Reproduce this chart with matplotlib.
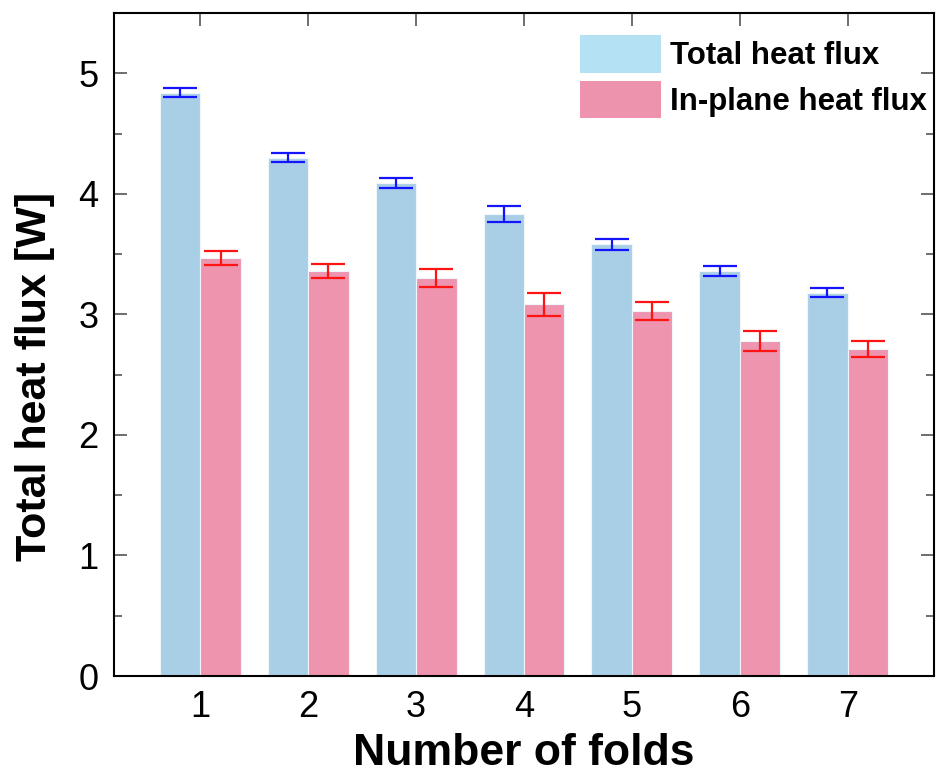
import matplotlib

matplotlib.use("Agg")
import matplotlib.pyplot as plt
import numpy as np
from matplotlib.patches import Patch
from matplotlib.ticker import MultipleLocator

FOLDS = [1, 2, 3, 4, 5, 6, 7]
TOTAL = [4.84, 4.30, 4.09, 3.83, 3.58, 3.36, 3.18]
TOTAL_ERR = [0.035, 0.035, 0.04, 0.065, 0.045, 0.045, 0.04]
INPLANE = [3.47, 3.36, 3.30, 3.085, 3.03, 2.78, 2.71]
INPLANE_ERR = [0.058, 0.055, 0.075, 0.095, 0.075, 0.08, 0.065]

LABELS = ["Total heat flux", "In-plane heat flux"]
BAR_COLORS = ["#a9cfe7", "#ee94ae"]
LEGEND_COLORS = ["#b4e2f4", "#ee93ae"]
ERR_COLORS = ["#1414ff", "#ff1414"]

plt.rcParams["font.family"] = ["Liberation Sans", "DejaVu Sans"]


def main():
    fig = plt.figure(figsize=(9.36, 7.82), dpi=100)
    ax = fig.add_axes([0.1218, 0.1355, 0.8761, 0.8479])

    x = np.array(FOLDS, dtype=float)
    w = 0.375
    for offset, vals, errs, col, ecol in [
        (-w / 2, TOTAL, TOTAL_ERR, BAR_COLORS[0], ERR_COLORS[0]),
        (w / 2, INPLANE, INPLANE_ERR, BAR_COLORS[1], ERR_COLORS[1]),
    ]:
        ax.bar(x + offset, vals, width=w, color=col, edgecolor="#eef6fb",
               linewidth=0.8, zorder=2)
        ax.errorbar(x + offset, vals, yerr=errs, fmt="none", ecolor=ecol,
                    elinewidth=1.6, capsize=12.5, capthick=1.6, zorder=3)

    ax.set_xlim(0.2, 7.8)
    ax.set_ylim(0, 5.5)
    ax.set_xticks(FOLDS)
    ax.yaxis.set_major_locator(MultipleLocator(1))
    ax.yaxis.set_minor_locator(MultipleLocator(0.5))
    ax.tick_params(which="both", direction="in", top=True, right=True,
                   color="#555555", width=1.2, labelsize=26)
    ax.tick_params(which="major", length=9.5)
    ax.tick_params(which="minor", length=5.5)
    ax.tick_params(axis="x", pad=10)
    ax.tick_params(axis="y", pad=11)
    for sp in ax.spines.values():
        sp.set_linewidth(1.5)

    ax.set_xlabel("Number of folds", fontsize=32, fontweight="bold", labelpad=6)
    ax.set_ylabel("Total heat flux [W]", fontsize=31, fontweight="bold")
    ax.yaxis.set_label_coords(-0.072, 0.452)

    handles = [Patch(facecolor=c, edgecolor="none") for c in LEGEND_COLORS]
    ax.legend(handles, LABELS, loc="upper right", bbox_to_anchor=(1.007, 0.985),
              frameon=False, borderaxespad=0, handlelength=2.6, handleheight=1.45,
              handletextpad=0.3, labelspacing=0.26,
              prop={"weight": "bold", "size": 22.5})

    fig.savefig("out.png", dpi=100)
    plt.close(fig)


if __name__ == "__main__":
    main()
